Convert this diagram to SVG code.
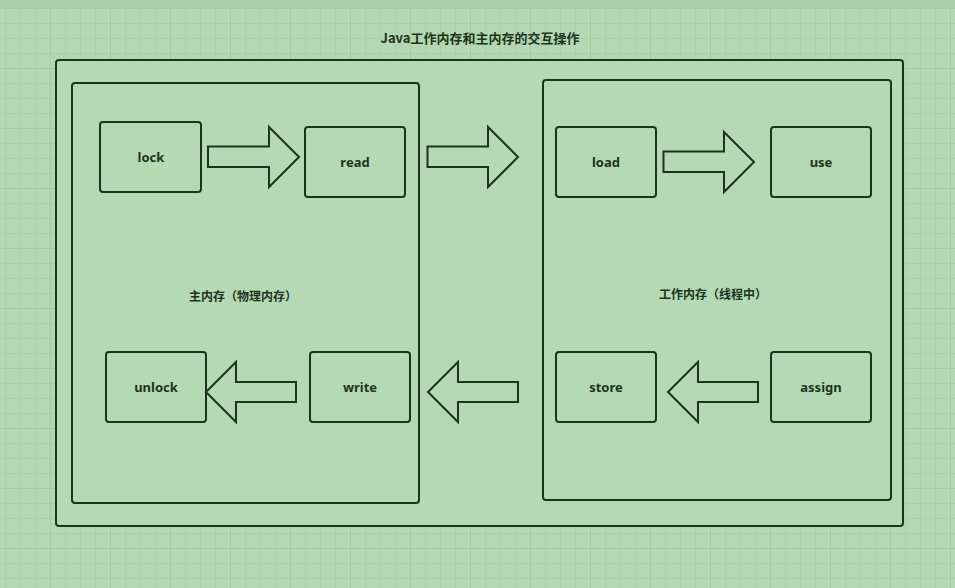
<svg xmlns="http://www.w3.org/2000/svg" width="955" height="588" viewBox="0 0 955 588">
  <defs>
    <pattern id="minor" x="5" y="8" width="15" height="15" patternUnits="userSpaceOnUse">
      <path d="M0 0.5H15M0.5 0V15" fill="none" stroke="#aad2a8" stroke-width="1"/>
    </pattern>
    <pattern id="major" x="50" y="8" width="60" height="60" patternUnits="userSpaceOnUse">
      <path d="M0 0.5H60M0.5 0V60" fill="none" stroke="#a3cca1" stroke-width="1"/>
    </pattern>
    <style>
      .box { fill: #b5dab3; stroke: #1c331c; stroke-width: 2; }
      .arrow { fill: #b5dab3; stroke: #1c331c; stroke-width: 2; stroke-linejoin: miter; }
      .lbl { font-family: "Noto Sans", "Noto Sans CJK SC", sans-serif; font-size: 13px; font-weight: bold; fill: #1e331e; text-anchor: middle; dominant-baseline: central; }
      .cjk { font-family: "Noto Sans CJK SC", sans-serif; font-size: 12px; font-weight: bold; fill: #1e331e; text-anchor: middle; dominant-baseline: central; }
    </style>
  </defs>
  <rect x="0" y="0" width="955" height="588" fill="#b4d9b2"/>
  <rect x="0" y="8" width="955" height="580" fill="url(#minor)"/>
  <rect x="0" y="8" width="955" height="580" fill="url(#major)"/>
  <rect x="0" y="0" width="955" height="8" fill="#a9cfa7"/>

  <text class="cjk" x="480" y="37" style="font-size:13px">Java工作内存和主内存的交互操作</text>

  <g id="outer">
    <rect class="box" x="56" y="60" width="847" height="466" rx="3"/>
  </g>
  <g id="main-memory">
    <rect class="box" x="72" y="83" width="347" height="420" rx="3"/>
    <text class="cjk" x="243" y="295">主内存（物理内存）</text>
  </g>
  <g id="work-memory">
    <rect class="box" x="543" y="80" width="348" height="420" rx="3"/>
    <text class="cjk" x="713" y="293">工作内存（线程中）</text>
  </g>

  <g id="lock">
    <rect class="box" x="100" y="122" width="101" height="70" rx="3"/>
    <text class="lbl" x="151" y="157">lock</text>
  </g>
  <g id="read">
    <rect class="box" x="305" y="127" width="100" height="70" rx="3"/>
    <text class="lbl" x="355" y="162">read</text>
  </g>
  <g id="load">
    <rect class="box" x="556" y="127" width="100" height="70" rx="3"/>
    <text class="lbl" x="606" y="162">load</text>
  </g>
  <g id="use">
    <rect class="box" x="771" y="127" width="100" height="70" rx="3"/>
    <text class="lbl" x="821" y="162">use</text>
  </g>
  <g id="unlock">
    <rect class="box" x="106" y="352" width="100" height="70" rx="3"/>
    <text class="lbl" x="156" y="387">unlock</text>
  </g>
  <g id="write">
    <rect class="box" x="310" y="352" width="100" height="70" rx="3"/>
    <text class="lbl" x="360" y="387">write</text>
  </g>
  <g id="store">
    <rect class="box" x="556" y="352" width="100" height="70" rx="3"/>
    <text class="lbl" x="606" y="387">store</text>
  </g>
  <g id="assign">
    <rect class="box" x="771" y="352" width="100" height="70" rx="3"/>
    <text class="lbl" x="821" y="387">assign</text>
  </g>

  <g id="connectors">
    <polygon class="arrow" points="208,146.5 269,146.5 269,127 299,157 269,187 269,167 208,167"/>
    <polygon class="arrow" points="427.5,146.5 488,146.5 488,127 518,157 488,187 488,167 427.5,167"/>
    <polygon class="arrow" points="663.5,151.5 724,151.5 724,132 754,162 724,192 724,172 663.5,172"/>
    <polygon class="arrow" points="296,382 236,382 236,362 206,392 236,422 236,402 296,402"/>
    <polygon class="arrow" points="518,382 458,382 458,362 428,392 458,422 458,402 518,402"/>
    <polygon class="arrow" points="758,382 698,382 698,362 668,392 698,422 698,402 758,402"/>
  </g>
</svg>
